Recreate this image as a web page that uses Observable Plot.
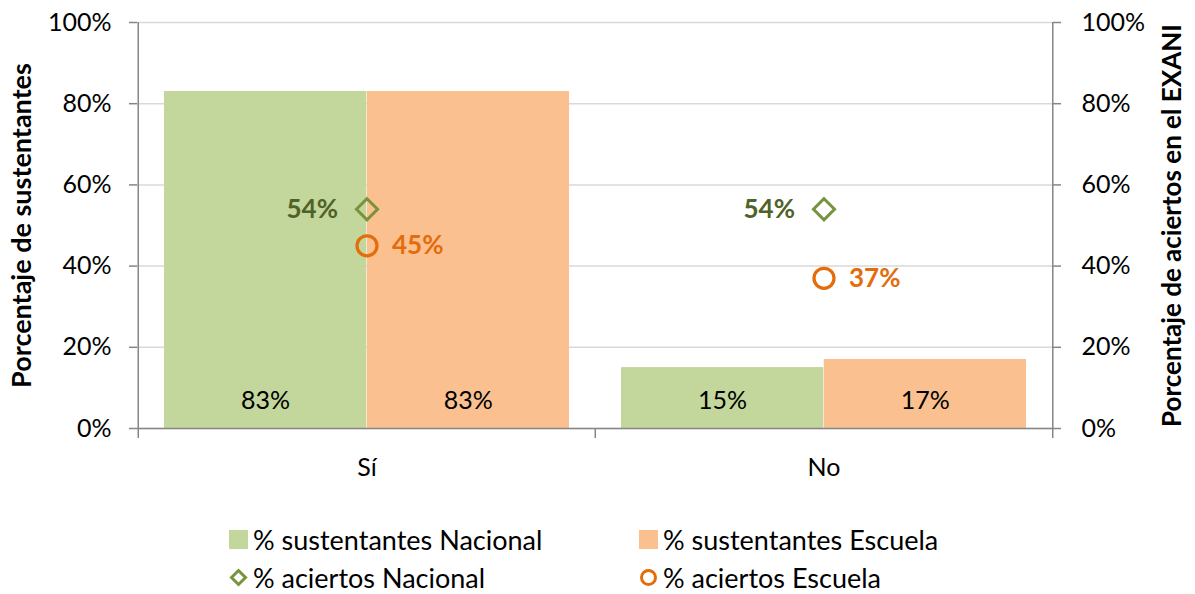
<!DOCTYPE html>
<html><head><meta charset="utf-8">
<script src="https://cdn.jsdelivr.net/npm/d3@7"></script>
<script src="https://cdn.jsdelivr.net/npm/@observablehq/plot@0.6"></script>
<style>
body{margin:0;background:#fff;font-family:Lato,"Open Sans",sans-serif;}
#legend{display:grid;grid-template-columns:410px 410px;row-gap:12px;margin:26px 0 0 229px;font-size:27px;color:#000;}
.item{display:flex;align-items:center;height:26px;}
.sw{width:19px;height:19px;margin-right:5px;flex:none;}
.sym{width:19px;height:19px;margin-right:5px;flex:none;}
</style></head><body>
<div id="chart"></div>
<div id="legend"></div>
<script>
const categories = ["Sí", "No"];
const sustentantesNacional = [83, 15];
const sustentantesEscuela = [83, 17];
const aciertosNacional = [54, 54];
const aciertosEscuela = [45, 37];
const yTicks = [0, 20, 40, 60, 80, 100];
const seriesNames = ["% sustentantes Nacional", "% sustentantes Escuela", "% aciertos Nacional", "% aciertos Escuela"];

const colors = {barN: "#c3d69b", barE: "#fac090", markN: "#77933c", markE: "#e46c0a", labN: "#4f6228", labE: "#e46c0a", axis: "#868686", grid: "#d9d9d9"};

const W = 1195, H = 500, mL = 137, mR = 143, mT = 22, mB = 72;
const band = (W - mL - mR) / categories.length;
const outer = 26;

const rows = categories.map((c, i) => ({
  cat: c, sn: sustentantesNacional[i], se: sustentantesEscuela[i], an: aciertosNacional[i], ae: aciertosEscuela[i]
}));

const pct = d => d + "%";
const labelShift = (band / 2 - outer) / 2;

const chart = Plot.plot({
  width: W, height: H,
  marginLeft: mL, marginRight: mR, marginTop: mT, marginBottom: mB,
  style: {fontFamily: "Lato, 'Open Sans', sans-serif", fontSize: "25px", color: "#000", background: "#fff"},
  x: {domain: categories, padding: 0, label: null},
  y: {domain: [0, 100], label: null},
  marks: [
    Plot.gridY(yTicks, {stroke: colors.grid, strokeOpacity: 1, strokeWidth: 1.5}),
    Plot.barY(rows, {x: "cat", y: "sn", fill: colors.barN, insetLeft: outer, insetRight: band / 2}),
    Plot.barY(rows, {x: "cat", y: "se", fill: colors.barE, insetLeft: band / 2, insetRight: outer}),
    Plot.ruleY([0], {stroke: colors.axis, strokeWidth: 1.5}),
    Plot.ruleX([categories[0]], {x: d => d, dx: -band / 2, y1: 0, y2: 100, insetTop: 10, stroke: colors.axis, strokeWidth: 1.5}),
    Plot.ruleX([categories[categories.length - 1]], {x: d => d, dx: band / 2, y1: 0, y2: 100, insetTop: 10, stroke: colors.axis, strokeWidth: 1.5}),
    Plot.ruleX(categories.slice(1), {x: d => d, dx: -band / 2, y1: 0, y2: 0, insetTop: 10, stroke: colors.axis, strokeWidth: 1.5}),
    Plot.axisY(yTicks, {anchor: "left", tickSize: 8, tickPadding: 18, tickFormat: pct, label: null, stroke: colors.axis, strokeWidth: 1.5, fill: "#000"}),
    Plot.axisY(yTicks, {anchor: "right", tickSize: 8, tickPadding: 21, tickFormat: pct, label: null, stroke: colors.axis, strokeWidth: 1.5, fill: "#000"}),
    Plot.axisX({tickSize: 0, tickPadding: 30, label: null, fill: "#000"}),
    Plot.text(rows, {x: "cat", y: 0, text: d => pct(d.sn), dx: -labelShift, dy: -28, fill: "#000"}),
    Plot.text(rows, {x: "cat", y: 0, text: d => pct(d.se), dx: labelShift, dy: -28, fill: "#000"}),
    Plot.dot(rows, {x: "cat", y: "an", symbol: "diamond2", r: 9.5, stroke: colors.markN, strokeWidth: 3, fill: "none"}),
    Plot.dot(rows, {x: "cat", y: "ae", symbol: "circle", r: 10, stroke: colors.markE, strokeWidth: 3.2, fill: "none"}),
    Plot.text(rows, {x: "cat", y: "an", text: d => pct(d.an), dx: -29, textAnchor: "end", fill: colors.labN, fontWeight: "bold", fontSize: 26}),
    Plot.text(rows, {x: "cat", y: "ae", text: d => pct(d.ae), dx: 25, textAnchor: "start", fill: colors.labE, fontWeight: "bold", fontSize: 26}),
    Plot.text(["Porcentaje de sustentantes"], {frameAnchor: "left", textAnchor: "middle", dx: -115, rotate: -90, fontWeight: "bold", fontSize: 27, fill: "#000"}),
    Plot.text(["Porcentaje de aciertos en el EXANI"], {frameAnchor: "right", textAnchor: "middle", dx: 120, rotate: -90, fontWeight: "bold", fontSize: 26, fill: "#000"})
  ]
});
document.getElementById("chart").appendChild(chart);

const legend = document.getElementById("legend");
const items = [
  {name: seriesNames[0], html: `<div class="sw" style="background:${colors.barN}"></div>`},
  {name: seriesNames[1], html: `<div class="sw" style="background:${colors.barE}"></div>`},
  {name: seriesNames[2], html: `<svg class="sym" viewBox="0 0 19 19"><path d="M9.5 2.5 L16.5 9.5 L9.5 16.5 L2.5 9.5 Z" fill="none" stroke="${colors.markN}" stroke-width="3"/></svg>`},
  {name: seriesNames[3], html: `<svg class="sym" viewBox="0 0 19 19"><circle cx="9.5" cy="9.5" r="7" fill="none" stroke="${colors.markE}" stroke-width="3"/></svg>`}
];
for (const it of items) {
  const d = document.createElement("div");
  d.className = "item";
  d.innerHTML = it.html + `<span>${it.name}</span>`;
  legend.appendChild(d);
}
</script>
</body></html>
